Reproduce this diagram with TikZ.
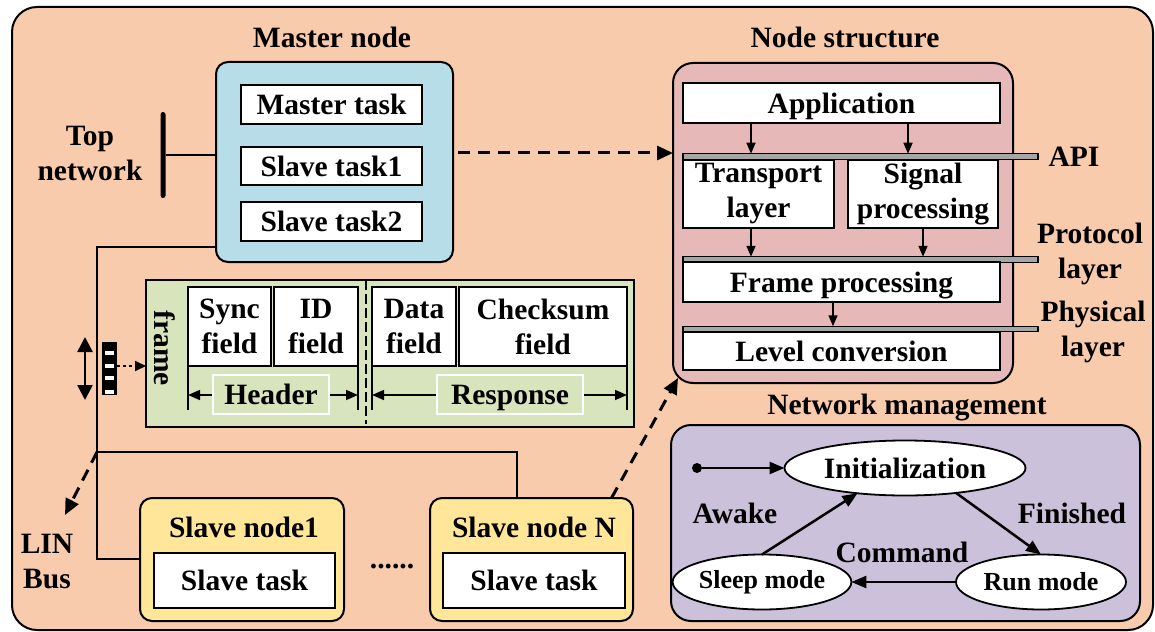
\documentclass[tikz,border=0pt]{standalone}
\usepackage{fontspec}
\setmainfont{Liberation Serif}
\usetikzlibrary{arrows.meta,shapes.geometric,calc}
\definecolor{peach}{HTML}{F8CBAD}
\definecolor{mblue}{HTML}{B7DDE8}
\definecolor{fgreen}{HTML}{D8E4BC}
\definecolor{npink}{HTML}{E6B9B8}
\definecolor{nlav}{HTML}{CCC1DA}
\definecolor{syell}{HTML}{FFE699}
\definecolor{bargray}{HTML}{A6A6A6}
\begin{document}
\begin{tikzpicture}[x=1pt,y=-1pt,
  every node/.style={font=\fontsize{29.5}{35}\selectfont\bfseries, inner sep=0pt, outer sep=0pt},
  lbl/.style={anchor=base},
  wbox/.style={draw, fill=white, line width=1.8pt, align=center},
  flat/.style={text depth=0pt},
  panel/.style={draw, line width=2pt, rounded corners=#1},
  layerbar/.style={draw, fill=bargray, line width=1.3pt, minimum height=5.5pt, minimum width=355pt},
  conn/.style={line width=1.6pt},
  arr/.style={line width=1.6pt, -{Triangle[length=11pt,width=9pt]}},
  sarr/.style={line width=2.5pt, -{Triangle[length=15pt,width=12pt]}},
  dasharrow/.style={line width=3pt, dash pattern=on 12pt off 8pt, -{Triangle[length=16pt,width=14pt]}},
  tag/.style={draw=white, fill=fgreen, line width=1.8pt, text depth=0pt},
  state/.style={ellipse, draw, fill=white, line width=1.8pt, minimum height=55pt}
]
\useasboundingbox (0,0) rectangle (1155,631);
% outer background panel, cut at the page edge
\begin{scope}
  \clip (0,0) rectangle (1155,631);
  \draw[line width=2pt, fill=peach, rounded corners=25pt] (12,7) rectangle (1153,630);
\end{scope}

% ---------------- master node ----------------
\node[lbl] (mtitle) at (332,48) {Master node};
\node[panel=12pt, fill=mblue, minimum width=237pt, minimum height=200pt] (master) at (334.5,162) {};
\node[wbox, minimum width=181pt, minimum height=39pt] (mtask) at (331.5,104.5) {Master task};
\node[wbox, minimum width=181pt, minimum height=38pt] (stask1) at (331.5,166) {Slave task1};
\node[wbox, minimum width=181pt, minimum height=39pt] (stask2) at (331.5,221.5) {Slave task2};

% top network
\node[fill=black, minimum width=5pt, minimum height=86pt, rounded corners=2.5pt] (topbar) at (163,155) {};
\node[align=center] (toplbl) at (90,153) {Top\\network};
\draw[conn] (topbar.east) -- (topbar.east -| master.west);

% ---------------- LIN bus ----------------
\coordinate (b1) at (97,247);
\coordinate (bj) at (97,452);
\coordinate (bb) at (97,559);
\coordinate (nx) at (517,0);
\coordinate (lin) at (65,515);

% slave nodes
\node[panel=12pt, fill=syell, minimum width=204pt, minimum height=123pt] (s1) at (242,559.5) {};
\node[lbl] (s1title) at (244,537) {Slave node1};
\node[wbox, minimum width=181pt, minimum height=55pt] (s1task) at (244.5,580.5) {Slave task};
\node[panel=12pt, fill=syell, minimum width=203pt, minimum height=123pt] (sN) at (531.5,559.5) {};
\node[lbl] (sNtitle) at (534,537) {Slave node N};
\node[wbox, minimum width=182pt, minimum height=55pt] (sNtask) at (534,580.5) {Slave task};
\node[lbl] (dots) at (392,568) {......};

\draw[conn] (master.west |- b1) -- (b1) -- (bb) -- (bb -| s1.west);
\draw[conn] (bj) -- (bj -| nx) -- (nx |- sN.north);
\draw[dasharrow] (bj) -- (lin);
\node[align=center] (linlbl) at (47,562) {LIN\\Bus};

% bus signal icon and double arrow
\node[fill=black, minimum width=15pt, minimum height=53pt] (busicon) at (109.5,368.5) {};
\foreach \yy in {353,366,378,392} \fill[white] (105,\yy-1.6) rectangle (114,\yy+1.6);
\coordinate (da1) at (85,337);
\coordinate (da2) at (85,400);
\draw[line width=2.6pt, {Triangle[length=15pt,width=15pt]}-{Triangle[length=15pt,width=15pt]}] (da1) -- (da2);

% ---------------- frame ----------------
\node[draw, fill=fgreen, line width=1.8pt, minimum width=488pt, minimum height=147pt] (frame) at (390,353.5) {};
\coordinate (dy) at (0,366);
\draw[line width=2pt, dash pattern=on 3pt off 3pt, -{Triangle[length=11pt,width=10pt]}] (busicon.east |- dy) -- (frame.west |- dy);
\node[rotate=-90] (frametxt) at (165,348) {frame};

\node[wbox, minimum width=83pt, minimum height=79pt] (sync) at (229.5,326.5) {Sync\\field};
\node[wbox, minimum width=84pt, minimum height=79pt] (idf) at (316,326.5) {ID\\field};
\node[wbox, minimum width=84pt, minimum height=79pt] (dataf) at (414,326.5) {Data\\field};
\node[wbox, minimum width=168pt, minimum height=79pt] (chk) at (543,326.5) {Checksum\\field};

\coordinate (dv) at (366,0);
\draw[line width=1.6pt, dash pattern=on 10pt off 4pt] (frame.north -| dv) -- ($(frame.south -| dv)+(0,-3)$);

\draw[conn] (sync.south west) -- ++(0,44);
\draw[conn] (idf.south east) -- ++(0,44);
\draw[conn] (dataf.south west) -- ++(0,44);
\draw[conn] (chk.south east) -- ++(0,44);
\draw[line width=1.6pt, {Triangle[length=12pt,width=10pt]}-{Triangle[length=12pt,width=10pt]}]
  ($(sync.south west)+(0,29)$) -- ($(idf.south east)+(0,29)$);
\draw[line width=1.6pt, {Triangle[length=12pt,width=10pt]}-{Triangle[length=12pt,width=10pt]}]
  ($(dataf.south west)+(0,29)$) -- ($(chk.south east)+(0,29)$);
\node[tag, minimum width=116pt, minimum height=39pt] (hdr) at (271,394.5) {Header};
\node[tag, minimum width=146pt, minimum height=39pt] (rsp) at (510,394.5) {Response};

% ---------------- node structure ----------------
\node[lbl] (nstitle) at (845,48) {Node structure};
\node[panel=20pt, fill=npink, minimum width=340pt, minimum height=320pt] (ns) at (843,223) {};
\node[wbox, flat, minimum width=317pt, minimum height=40pt] (app) at (841.5,103) {Application};
\node[layerbar] (apibar) at (860.5,156.5) {};
\node[wbox, minimum width=151pt, minimum height=68pt] (tr) at (758.5,194) {Transport\\layer};
\node[wbox, minimum width=150pt, minimum height=68pt] (sig) at (923,194) {Signal\\processing};
\node[layerbar] (protbar) at (860.5,259.5) {};
\node[wbox, flat, minimum width=317pt, minimum height=40pt] (fp) at (841.5,282) {Frame processing};
\node[layerbar] (physbar) at (860.5,329) {};
\node[wbox, minimum width=317pt, minimum height=38pt] (lc) at (841.5,351) {Level conversion};

\node[lbl] (apilbl) at (1074,167) {API};
\node[align=center] (protlbl) at (1090,254) {Protocol\\layer};
\node[align=center] (physlbl) at (1093,332) {Physical\\layer};

\coordinate (ax1) at (751,0);
\coordinate (ax2) at (908,0);
\coordinate (ax3) at (923,0);
\coordinate (ax4) at (833,0);
\draw[arr] (app.south -| ax1) -- (apibar.north -| ax1);
\draw[arr] (app.south -| ax2) -- (apibar.north -| ax2);
\draw[arr] (tr.south -| ax1) -- (protbar.north -| ax1);
\draw[arr] (sig.south -| ax3) -- (protbar.north -| ax3);
\draw[arr] (fp.south -| ax4) -- (physbar.north -| ax4);

% dashed links into the node structure
\coordinate (mout) at ($(master.east)+(5,-9)$);
\coordinate (sout) at ($(sN.north)+(80,0)$);
\coordinate (nsin) at ($(ns.south west)+(5,-5)$);
\draw[dasharrow] (mout) -- (mout -| ns.west);
\draw[dasharrow] (sout) -- (nsin);

% ---------------- network management ----------------
\node[lbl] (nmtitle) at (907,414) {Network management};
\node[panel=20pt, fill=nlav, minimum width=469pt, minimum height=196pt] (nm) at (905.5,523) {};
\node[state, minimum width=241pt] (init) at (905,468) {Initialization};
\node[state, minimum width=170pt, font=\fontsize{26}{30}\selectfont\bfseries] (sleep) at (762,582) {Sleep mode};
\node[state, minimum width=170pt, font=\fontsize{26}{30}\selectfont\bfseries] (run) at (1041,582) {Run mode};
\node[circle, fill=black, minimum size=10pt] (start) at (697,468) {};
\draw[sarr] (start) -- (init.west);
\draw[sarr] (sleep.north) -- (init.208);
\draw[sarr] (init.334) -- (run.north);
\draw[sarr] (run.west) -- (sleep.east);
\node[lbl] (awake) at (735,523) {Awake};
\node[lbl] (fin) at (1072,523) {Finished};
\node[lbl] (cmd) at (902,562) {Command};
\end{tikzpicture}
\end{document}
